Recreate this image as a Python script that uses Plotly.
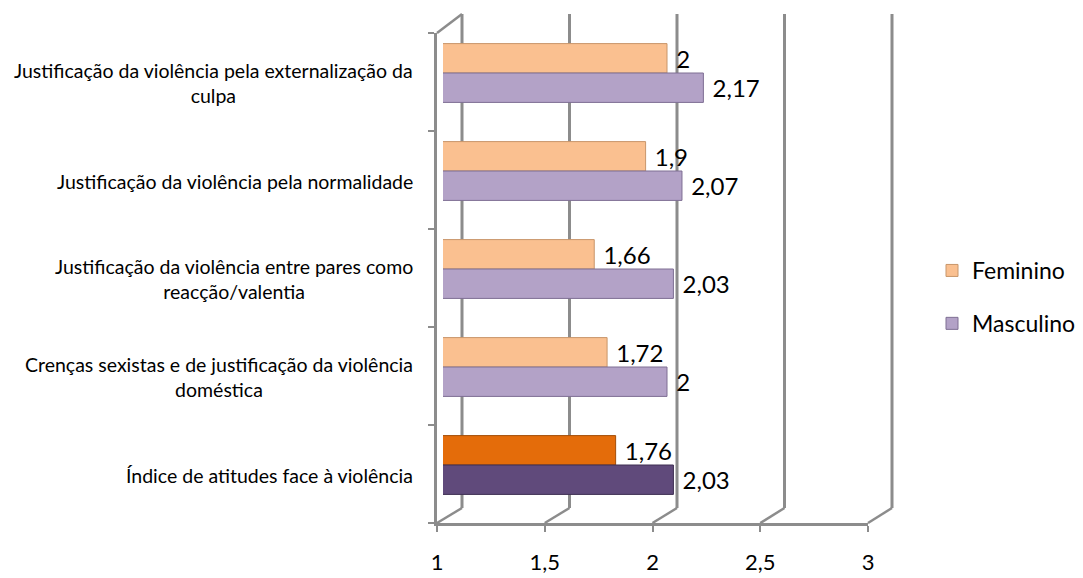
import plotly.graph_objects as go

# ---- data ----
categories = [
    "Justificação da violência pela externalização da<br>culpa",
    "Justificação da violência pela normalidade",
    "Justificação da violência entre pares como<br>reacção/valentia",
    "Crenças sexistas e de justificação da violência<br>doméstica",
    "Índice de atitudes face à violência",
]
feminino = [2.0, 1.9, 1.66, 1.72, 1.76]
masculino = [2.17, 2.07, 2.03, 2.0, 2.03]
x_ticks = [1, 1.5, 2, 2.5, 3]
x_ticklabels = ["1", "1,5", "2", "2,5", "3"]

fem_colors = ["#FAC090", "#FAC090", "#FAC090", "#FAC090", "#E46C0A"]
fem_lines = ["#C8966A", "#C8966A", "#C8966A", "#C8966A", "#A34E08"]
mas_colors = ["#B3A2C7", "#B3A2C7", "#B3A2C7", "#B3A2C7", "#604A7B"]
mas_lines = ["#7E6E93", "#7E6E93", "#7E6E93", "#7E6E93", "#3E2F52"]

# the page body has an 8px margin; size the figure to end at the window edge
OFF = 8
W, H = 1083 - OFF, 578 - OFF
FONT = "Lato"
GRID = "#8C8C8C"
XMIN, XMAX = 1, 3
NCAT = len(categories)


def fmt(v):
    return ("%g" % v).replace(".", ",")


def fx(px):  # window pixel -> paper fraction
    return (px - OFF) / W


def fy(px):
    return 1 - (px - OFF) / H


# pixel layout (window coordinates)
front_x = (437, 868)   # front axis x=1..3
front_y = (33, 523)    # front wall top/bottom
back_x = (462, 892)    # back wall
back_y = (14, 508)
bar_x = (443, 881)
bar_y = (24, 514)
bar_start_pad = 10     # bars begin a little left of value 1 (3D depth)
px_per_unit = (bar_x[1] - bar_x[0] - bar_start_pad) / (XMAX - XMIN)
bar_range = [XMIN - bar_start_pad / px_per_unit, XMAX]


def front_px(v):
    return front_x[0] + (v - XMIN) / (XMAX - XMIN) * (front_x[1] - front_x[0])


def back_px(v):
    return back_x[0] + (v - XMIN) / (XMAX - XMIN) * (back_x[1] - back_x[0])


fig = go.Figure()

fig.add_trace(go.Bar(
    name="Feminino", y=categories, x=feminino, orientation="h",
    marker=dict(color=fem_colors, line=dict(color=fem_lines, width=1)),
    text=["\u00a0" + fmt(v) for v in feminino], textposition="outside",
    textfont=dict(family=FONT, size=24, color="black"),
    constraintext="none", cliponaxis=False, legendgroup="f",
    xaxis="x", yaxis="y", hoverinfo="x+name",
))
fig.add_trace(go.Bar(
    name="Masculino", y=categories, x=masculino, orientation="h",
    marker=dict(color=mas_colors, line=dict(color=mas_lines, width=1)),
    text=["\u00a0" + fmt(v) for v in masculino], textposition="outside",
    textfont=dict(family=FONT, size=24, color="black"),
    constraintext="none", cliponaxis=False, legendgroup="m",
    xaxis="x", yaxis="y", hoverinfo="x+name",
))
# invisible trace so the front-frame axes (x2/y2) get drawn
fig.add_trace(go.Scatter(
    x=[XMIN, XMAX], y=[0, NCAT], mode="none", xaxis="x2", yaxis="y2",
    showlegend=False, hoverinfo="skip",
))

shapes = []
for v in x_ticks:
    # back-wall gridline
    shapes.append(dict(
        type="line", xref="paper", yref="paper",
        x0=fx(back_px(v)), x1=fx(back_px(v)), y0=fy(back_y[1]), y1=fy(back_y[0]),
        line=dict(color=GRID, width=3), layer="below",
    ))
    # floor diagonal from front tick to back wall
    shapes.append(dict(
        type="line", xref="paper", yref="paper",
        x0=fx(front_px(v)), x1=fx(back_px(v)), y0=fy(front_y[1]), y1=fy(back_y[1]),
        line=dict(color=GRID, width=2.5), layer="below",
    ))
# top-left wall diagonal
shapes.append(dict(
    type="line", xref="paper", yref="paper",
    x0=fx(front_px(XMIN)), x1=fx(back_px(XMIN)), y0=fy(front_y[0]), y1=fy(back_y[0]),
    line=dict(color=GRID, width=2.5), layer="below",
))

annotations = []
for c in categories:
    annotations.append(dict(
        xref="paper", x=fx(415), xanchor="right", yref="y", y=c,
        yshift=-10, text=c, showarrow=False, align="center",
        font=dict(family=FONT, size=19.5, color="black"),
    ))

fig.update_layout(
    width=W, height=H,
    margin=dict(l=0, r=0, t=0, b=0, autoexpand=False),
    paper_bgcolor="white", plot_bgcolor="rgba(0,0,0,0)",
    barmode="group", bargap=0.40, bargroupgap=0.0,
    font=dict(family=FONT, color="black"),
    # bars
    xaxis=dict(domain=[fx(bar_x[0]), fx(bar_x[1])], range=bar_range,
               anchor="y", showgrid=False, zeroline=False, showline=False,
               showticklabels=False, ticks="", automargin=False),
    yaxis=dict(domain=[fy(bar_y[1]), fy(bar_y[0])], type="category",
               autorange="reversed", anchor="x", showgrid=False,
               zeroline=False, showline=False, showticklabels=False, ticks="",
               automargin=False),
    # front frame
    xaxis2=dict(domain=[fx(front_x[0]), fx(front_x[1])], range=[XMIN, XMAX],
                anchor="y2", tickvals=x_ticks, ticktext=x_ticklabels,
                ticks="outside", ticklen=6, tickwidth=2, tickcolor=GRID,
                showline=True, linecolor=GRID, linewidth=2.5,
                showgrid=False, zeroline=False, ticklabelstandoff=12,
                automargin=False,
                tickfont=dict(family=FONT, size=22, color="black")),
    yaxis2=dict(domain=[fy(front_y[1]), fy(front_y[0])], range=[0, NCAT],
                anchor="x2", tickvals=list(range(NCAT + 1)),
                ticks="outside", ticklen=6, tickwidth=2, tickcolor=GRID,
                showline=True, linecolor=GRID, linewidth=2.5,
                showgrid=False, zeroline=False, showticklabels=False,
                automargin=False),
    shapes=shapes,
    annotations=annotations,
    showlegend=True,
    legend=dict(x=fx(932), y=fy(297), xanchor="left", yanchor="middle",
                font=dict(family=FONT, size=23, color="black"),
                tracegroupgap=20, traceorder="grouped",
                bgcolor="rgba(0,0,0,0)"),
)

fig.write_html("out.html")
